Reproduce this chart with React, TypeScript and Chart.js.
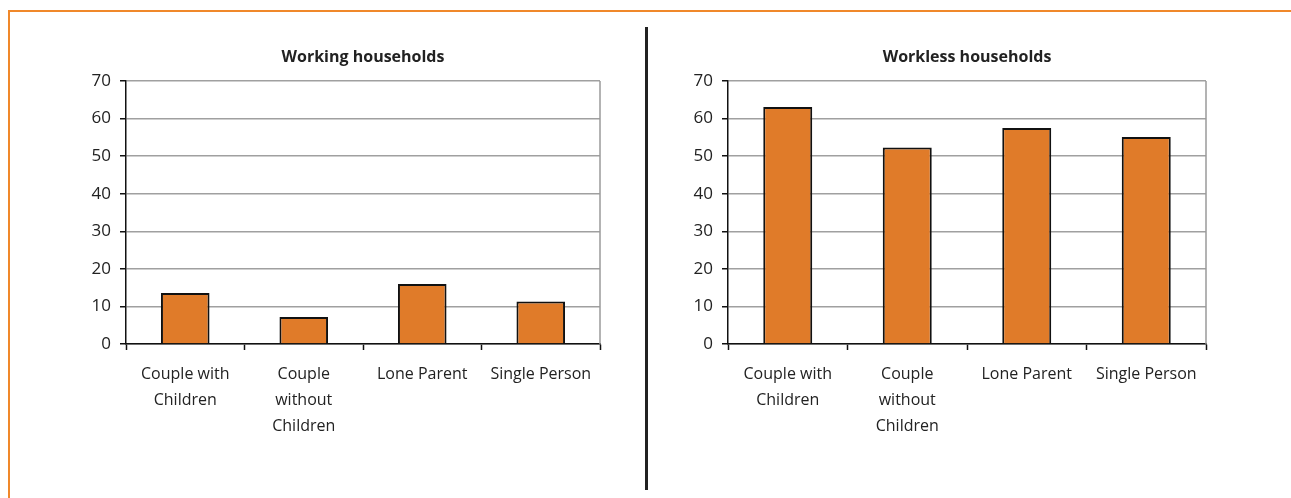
import React, { useEffect, useRef } from "react";
import { Chart, registerables } from "chart.js";

Chart.register(...registerables);

const categories: (string | string[])[] = [
  ["Couple with", "Children"],
  ["Couple", "without", "Children"],
  "Lone Parent",
  "Single Person",
];
const workingValues = [13.6, 7.2, 16.0, 11.3];
const worklessValues = [63.1, 52.3, 57.5, 55.1];
const yMin = 0;
const yMax = 70;
const yStep = 10;
const workingTitle = "Working households";
const worklessTitle = "Workless households";

const FONT = "'Open Sans', 'Noto Sans', sans-serif";
const BAR_COLOR = "#E07B29";

const rightBorder = {
  id: "rightBorder",
  beforeDatasetsDraw(chart: any) {
    const { ctx, chartArea } = chart;
    ctx.save();
    ctx.strokeStyle = "#9a9a9a";
    ctx.lineWidth = 1.5;
    ctx.beginPath();
    ctx.moveTo(chartArea.right, chartArea.top);
    ctx.lineTo(chartArea.right, chartArea.bottom);
    ctx.stroke();
    ctx.restore();
  },
};

const centeredTitle = {
  id: "centeredTitle",
  afterDraw(chart: any, _args: any, opts: any) {
    const { ctx, chartArea } = chart;
    ctx.save();
    ctx.fillStyle = "#222";
    ctx.font = `bold 16px ${FONT}`;
    ctx.textAlign = "center";
    ctx.textBaseline = "middle";
    ctx.fillText(opts.text, (chartArea.left + chartArea.right) / 2, opts.y);
    ctx.restore();
  },
};

function BarPanel(props: {
  title: string;
  values: number[];
  left: number;
  width: number;
  yAxisWidth: number;
}) {
  const ref = useRef<HTMLCanvasElement | null>(null);
  useEffect(() => {
    if (!ref.current) return;
    const chart = new Chart(ref.current, {
      type: "bar",
      data: {
        labels: categories,
        datasets: [
          {
            data: props.values,
            backgroundColor: BAR_COLOR,
            borderColor: "#111",
            borderWidth: 2,
            barPercentage: 0.41,
            categoryPercentage: 1,
          },
        ],
      },
      options: {
        responsive: false,
        animation: false,
        layout: { padding: { left: 0, right: 20, top: 61, bottom: 0 } },
        plugins: {
          legend: { display: false },
          tooltip: { enabled: false },
          title: { display: false },
          centeredTitle: { text: props.title, y: 37.5 },
        } as any,
        scales: {
          x: {
            offset: true,
            grid: {
              offset: true,
              drawOnChartArea: false,
              tickLength: 6,
              tickColor: "#111",
              tickWidth: 1.5,
            },
            border: { color: "#111", width: 1.5 },
            ticks: {
              color: "#222",
              font: { family: FONT, size: 16, lineHeight: 1.6 },
              padding: 12,
              maxRotation: 0,
              autoSkip: false,
            },
            afterFit: (scale: any) => {
              scale.height = 146;
            },
          },
          y: {
            min: yMin,
            max: yMax,
            ticks: {
              stepSize: yStep,
              color: "#222",
              font: { family: FONT, size: 17 },
              padding: 9,
            },
            grid: {
              color: "#a0a0a0",
              lineWidth: 1.5,
              tickLength: 6,
              tickColor: "#111",
              tickWidth: 1.5,
            },
            border: { color: "#111", width: 1.5 },
            afterFit: (scale: any) => {
              scale.width = props.yAxisWidth;
            },
          },
        },
      },
      plugins: [rightBorder, centeredTitle],
    });
    return () => chart.destroy();
  }, []);
  return (
    <canvas
      ref={ref}
      width={props.width}
      height={470}
      style={{ position: "absolute", left: props.left, top: 20 }}
    />
  );
}

export default function App() {
  return (
    <div
      style={{
        position: "fixed",
        left: 0,
        top: 0,
        width: 1291,
        height: 498,
        background: "#fff",
        overflow: "hidden",
      }}
    >
      <div
        style={{
          position: "absolute",
          left: 8,
          top: 10,
          width: 1300,
          height: 2,
          background: "#F0882A",
        }}
      />
      <div
        style={{
          position: "absolute",
          left: 8,
          top: 10,
          width: 1.5,
          height: 500,
          background: "#F0882A",
        }}
      />
      <div
        style={{
          position: "absolute",
          left: 645,
          top: 27,
          width: 3,
          height: 463,
          background: "#222",
        }}
      />
      <BarPanel title={workingTitle} values={workingValues} left={40} width={580} yAxisWidth={86} />
      <BarPanel title={worklessTitle} values={worklessValues} left={660} width={566} yAxisWidth={68} />
    </div>
  );
}
